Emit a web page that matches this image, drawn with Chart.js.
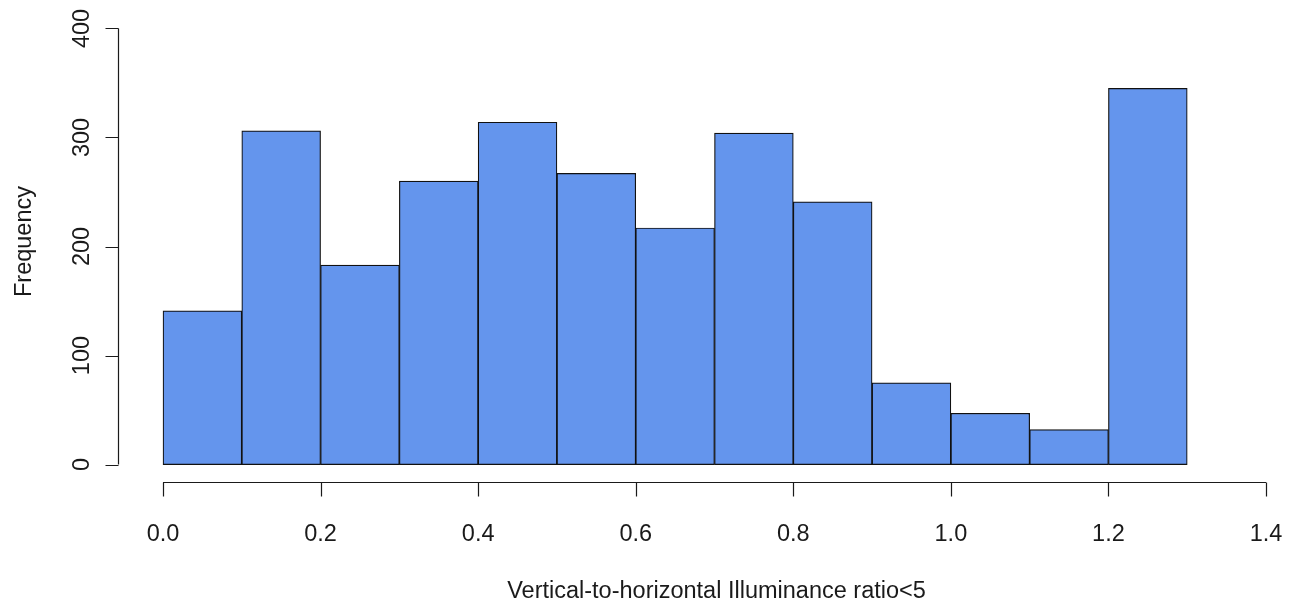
<!DOCTYPE html>
<html>
<head>
<meta charset="utf-8">
<title>Histogram</title>
<script src="https://cdn.jsdelivr.net/npm/chart.js@4"></script>
<style>
  html, body { margin: 0; padding: 0; background: #fff; }
  canvas { display: block; }
</style>
</head>
<body>
<canvas id="histChart" width="1296" height="605"></canvas>
<script>
// bin edges are 0.0, 0.1, ... 1.3; each count sits at its bin centre
const binStarts = [0.0, 0.1, 0.2, 0.3, 0.4, 0.5, 0.6, 0.7, 0.8, 0.9, 1.0, 1.1, 1.2];
const binWidth = 0.1;
const counts = [141, 306, 183, 260, 314, 267, 217, 304, 241, 75, 47, 32, 345];

const xTicks = [0.0, 0.2, 0.4, 0.6, 0.8, 1.0, 1.2, 1.4];
const xTickLabels = ["0.0", "0.2", "0.4", "0.6", "0.8", "1.0", "1.2", "1.4"];
const yTicks = [0, 100, 200, 300, 400];
const yTickLabels = ["0", "100", "200", "300", "400"];

const xTitle = "Vertical-to-horizontal Illuminance ratio<5";
const yTitle = "Frequency";

const FONT = '23.5px "Liberation Sans", Arial, sans-serif';
const INK = "#1a1a1a";

// base-graphics style axes: lines only span first..last tick, offset from the plot
const rAxes = {
    id: "rAxes",
    afterDraw(chart) {
        const ctx = chart.ctx;
        const xs = chart.scales.x;
        const ys = chart.scales.y;
        const area = chart.chartArea;
        ctx.save();
        ctx.strokeStyle = INK;
        ctx.fillStyle = INK;
        ctx.lineWidth = 1.2;
        ctx.font = FONT;

        // x axis
        const axY = Math.round(area.bottom) + 0.5;
        const x0 = xs.getPixelForValue(xTicks[0]);
        const x1 = xs.getPixelForValue(xTicks[xTicks.length - 1]);
        ctx.beginPath();
        ctx.moveTo(x0, axY);
        ctx.lineTo(x1, axY);
        xTicks.forEach((t) => {
            const px = Math.round(xs.getPixelForValue(t)) + 0.5;
            ctx.moveTo(px, axY);
            ctx.lineTo(px, axY + 14);
        });
        ctx.stroke();
        ctx.textAlign = "center";
        ctx.textBaseline = "alphabetic";
        xTicks.forEach((t, i) => {
            ctx.fillText(xTickLabels[i], xs.getPixelForValue(t), axY + 58);
        });

        // y axis
        const axX = Math.round(area.left) + 0.5;
        const y0 = ys.getPixelForValue(yTicks[0]);
        const y1 = ys.getPixelForValue(yTicks[yTicks.length - 1]);
        ctx.beginPath();
        ctx.moveTo(axX, y0);
        ctx.lineTo(axX, y1);
        yTicks.forEach((t) => {
            const py = Math.round(ys.getPixelForValue(t)) + 0.5;
            ctx.moveTo(axX, py);
            ctx.lineTo(axX - 13, py);
        });
        ctx.stroke();
        yTicks.forEach((t, i) => {
            ctx.save();
            ctx.translate(axX - 30, ys.getPixelForValue(t));
            ctx.rotate(-Math.PI / 2);
            ctx.fillText(yTickLabels[i], 0, 0);
            ctx.restore();
        });

        // titles
        ctx.fillText(xTitle, (x0 + x1) / 2 + 2, axY + 115);
        ctx.save();
        ctx.translate(31, (y0 + y1) / 2 - 5);
        ctx.rotate(-Math.PI / 2);
        ctx.fillText(yTitle, 0, 0);
        ctx.restore();

        ctx.restore();
    }
};

new Chart(document.getElementById("histChart"), {
    type: "bar",
    data: {
        datasets: [
            {
                label: yTitle,
                data: binStarts.map((s, i) => ({ x: s + binWidth / 2, y: counts[i] })),
                backgroundColor: "#6495ED",
                borderColor: "#111",
                borderWidth: 1.2,
                borderSkipped: false,
                barPercentage: 1,
                categoryPercentage: 1
            }
        ]
    },
    options: {
        responsive: false,
        animation: false,
        devicePixelRatio: 1,
        layout: {
            padding: { left: 118, right: 6, top: 11, bottom: 123 }
        },
        plugins: {
            legend: { display: false },
            tooltip: { enabled: false }
        },
        scales: {
            x: {
                type: "linear",
                display: false,
                offset: false,
                min: -0.05712,
                max: 1.43045,
                ticks: { stepSize: 0.1, includeBounds: false }
            },
            y: {
                type: "linear",
                display: false,
                min: -16,
                max: 416
            }
        }
    },
    plugins: [rAxes]
});
</script>
</body>
</html>
